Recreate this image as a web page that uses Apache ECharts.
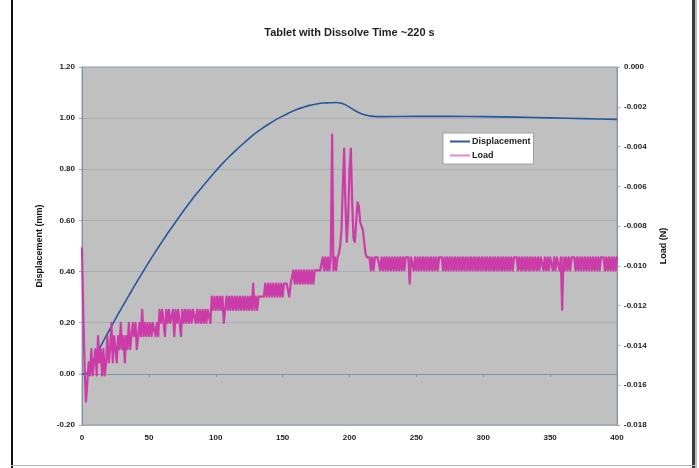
<!DOCTYPE html>
<html>
<head>
<meta charset="utf-8">
<script src="https://cdn.jsdelivr.net/npm/echarts@6/dist/echarts.min.js"></script>
<style>
html,body{margin:0;padding:0;background:#fff;}
#chart{width:699px;height:468px;}
</style>
</head>
<body>
<div id="chart"></div>
<script>
// ---- Data ----
const titleText = 'Tablet with Dissolve Time ~220 s';
const seriesNames = ['Displacement', 'Load'];
const xTicks = [0, 50, 100, 150, 200, 250, 300, 350, 400];
const leftTicks = [-0.2, 0, 0.2, 0.4, 0.6, 0.8, 1.0, 1.2];
const rightTicks = [-0.018, -0.016, -0.014, -0.012, -0.010, -0.008, -0.006, -0.004, -0.002, 0];

// Displacement (mm) vs time (s)
const dispTime = [0,3,5,10,15,20,25,30,35,40,45,50,55,60,65,70,75,80,85,90,95,100,105,110,115,120,125,130,135,140,145,150,155,160,165,170,175,180,185,190,193,196,200,204,208,212,216,225,250,275,300,325,350,375,400];
const dispValue = [0.000,0.000,0.015,0.068,0.118,0.167,0.215,0.261,0.306,0.351,0.394,0.437,0.478,0.518,0.557,0.594,0.631,0.666,0.700,0.732,0.763,0.793,0.822,0.849,0.874,0.898,0.921,0.942,0.961,0.978,0.994,1.008,1.021,1.033,1.042,1.050,1.055,1.059,1.060,1.061,1.059,1.054,1.043,1.030,1.019,1.012,1.008,1.006,1.007,1.007,1.006,1.004,1.001,0.998,0.995];

// Load (N), one sample per second starting at t = 0 s (401 samples)
const loadSampleInterval = 1;
const loadValue = [
-0.0091,-0.0125,-0.0152,-0.01683,-0.01683,-0.01485,-0.01551,-0.01419,-0.01551,-0.01485,
-0.01419,-0.01551,-0.01353,-0.01485,-0.01419,-0.01551,-0.01419,-0.01551,-0.01485,-0.01353,
-0.01485,-0.01419,-0.01287,-0.01485,-0.01353,-0.01419,-0.01485,-0.01353,-0.01419,-0.01287,
-0.01419,-0.01353,-0.01485,-0.01353,-0.01419,-0.01287,-0.01419,-0.01353,-0.01287,-0.01353,
-0.01287,-0.01419,-0.01353,-0.01287,-0.01353,-0.01221,-0.01353,-0.01287,-0.01353,-0.01287,
-0.01353,-0.01287,-0.01353,-0.01287,-0.01287,-0.01353,-0.01287,-0.01353,-0.01221,-0.01287,
-0.01221,-0.01287,-0.01353,-0.01221,-0.01287,-0.01221,-0.01287,-0.01287,-0.01221,-0.01353,
-0.01221,-0.01287,-0.01221,-0.01287,-0.01353,-0.01221,-0.01287,-0.01221,-0.01287,-0.01221,
-0.01287,-0.01221,-0.01287,-0.01221,-0.01221,-0.01287,-0.01221,-0.01287,-0.01221,-0.01287,
-0.01221,-0.01287,-0.01221,-0.01287,-0.01221,-0.01221,-0.01287,-0.01155,-0.01221,-0.01155,
-0.01221,-0.01155,-0.01221,-0.01155,-0.01221,-0.01155,-0.01287,-0.01221,-0.01155,-0.01221,
-0.01155,-0.01221,-0.01155,-0.01221,-0.01155,-0.01221,-0.01155,-0.01221,-0.01155,-0.01221,
-0.01155,-0.01221,-0.01155,-0.01221,-0.01155,-0.01221,-0.01155,-0.01221,-0.01089,-0.01221,
-0.01155,-0.01221,-0.01155,-0.01155,-0.01155,-0.01155,-0.01155,-0.01089,-0.01155,-0.01089,
-0.01155,-0.01089,-0.01155,-0.01089,-0.01155,-0.01089,-0.01155,-0.01089,-0.01155,-0.01089,
-0.01155,-0.01089,-0.01089,-0.01089,-0.01089,-0.01155,-0.01089,-0.01089,-0.01023,-0.01089,
-0.01023,-0.01089,-0.01023,-0.01089,-0.01023,-0.01089,-0.01023,-0.01089,-0.01023,-0.01089,
-0.01023,-0.01089,-0.01023,-0.01089,-0.01023,-0.01023,-0.01023,-0.01023,-0.01023,-0.01023,
-0.00957,-0.01023,-0.00957,-0.01023,-0.00957,-0.01023,-0.00957,-0.0034,-0.01023,-0.00957,
-0.01023,-0.00957,-0.0094,-0.0090,-0.0082,-0.0060,-0.0041,-0.0070,-0.0088,-0.0075,
-0.0052,-0.0041,-0.0068,-0.0086,-0.0088,-0.0078,-0.0068,-0.0070,-0.0078,-0.0080,
-0.0082,-0.0088,-0.0094,-0.00957,-0.00957,-0.00957,-0.01023,-0.00957,-0.01023,-0.00957,
-0.00957,-0.00957,-0.00957,-0.01023,-0.00957,-0.01023,-0.00957,-0.01023,-0.00957,-0.01023,
-0.00957,-0.01023,-0.00957,-0.01023,-0.00957,-0.01023,-0.00957,-0.01023,-0.00957,-0.01023,
-0.00957,-0.01023,-0.00957,-0.00957,-0.00957,-0.01089,-0.00957,-0.00957,-0.01023,-0.00957,
-0.01023,-0.00957,-0.01023,-0.00957,-0.01023,-0.00957,-0.01023,-0.00957,-0.01023,-0.00957,
-0.01023,-0.00957,-0.01023,-0.00957,-0.01023,-0.00957,-0.01023,-0.00957,-0.00957,-0.00957,
-0.01023,-0.00957,-0.01023,-0.00957,-0.01023,-0.00957,-0.01023,-0.00957,-0.01023,-0.00957,
-0.01023,-0.00957,-0.01023,-0.00957,-0.01023,-0.00957,-0.01023,-0.00957,-0.01023,-0.00957,
-0.01023,-0.00957,-0.01023,-0.00957,-0.01023,-0.00957,-0.01023,-0.00957,-0.01023,-0.00957,
-0.01023,-0.00957,-0.01023,-0.00957,-0.01023,-0.00957,-0.01023,-0.00957,-0.01023,-0.00957,
-0.01023,-0.00957,-0.01023,-0.00957,-0.01023,-0.00957,-0.01023,-0.00957,-0.01023,-0.00957,
-0.01023,-0.00957,-0.01023,-0.00957,-0.00957,-0.00957,-0.01023,-0.00957,-0.01023,-0.00957,
-0.01023,-0.00957,-0.01023,-0.00957,-0.01023,-0.00957,-0.01023,-0.00957,-0.01023,-0.00957,
-0.01023,-0.00957,-0.01023,-0.00957,-0.00957,-0.01023,-0.00957,-0.01023,-0.00957,-0.01023,
-0.00957,-0.00957,-0.01023,-0.00957,-0.01023,-0.00957,-0.00957,-0.01023,-0.00957,-0.01221,
-0.00957,-0.01023,-0.00957,-0.01023,-0.00957,-0.01023,-0.00957,-0.00957,-0.00957,-0.01023,
-0.00957,-0.01023,-0.00957,-0.01023,-0.00957,-0.01023,-0.00957,-0.01023,-0.00957,-0.01023,
-0.00957,-0.01023,-0.00957,-0.01023,-0.00957,-0.01023,-0.00957,-0.01023,-0.00957,-0.00957,
-0.00957,-0.01023,-0.00957,-0.01023,-0.00957,-0.01023,-0.00957,-0.01023,-0.00957,-0.01023,
-0.00957
];

// ---- Chart ----
const FONT = '"Liberation Sans", Arial, sans-serif';
const dispData = dispTime.map((t, i) => [t, dispValue[i]]);
const loadData = loadValue.map((v, i) => [i * loadSampleInterval, v]);

const chart = echarts.init(document.getElementById('chart'), null, {renderer: 'canvas'});
const axisLabelStyle = {fontFamily: FONT, fontSize: 8, fontWeight: 'bold', color: '#222'};
const axisNameStyle = {fontFamily: FONT, fontSize: 9, fontWeight: 'bold', color: '#111'};

chart.setOption({
  backgroundColor: '#ffffff',
  animation: false,
  title: {
    text: titleText,
    left: 'center',
    top: 22,
    textStyle: {fontFamily: FONT, fontSize: 11, fontWeight: 'bold', color: '#222'}
  },
  legend: {
    data: [
      {name: seriesNames[0], icon: 'rect', itemStyle: {color: '#2a58a0'}},
      {name: seriesNames[1], icon: 'rect', itemStyle: {color: '#e08ccc'}}
    ],
    orient: 'vertical',
    left: 443,
    top: 133,
    itemWidth: 20,
    itemHeight: 2,
    itemGap: 3,
    padding: [3, 3, 3, 7],
    backgroundColor: '#ffffff',
    borderColor: '#a0a0a0',
    borderWidth: 1,
    textStyle: {fontFamily: FONT, fontSize: 9, fontWeight: 'bold', color: '#222', lineHeight: 11, padding: [0,0,0,-3]}
  },
  grid: {
    left: 82, right: 82, top: 67, bottom: 43,
    containLabel: false,
    outerBoundsMode: 'none',
    show: true,
    backgroundColor: '#c0c0c0',
    borderColor: '#8a9fb0',
    borderWidth: 1
  },
  xAxis: {
    type: 'value',
    min: xTicks[0],
    max: xTicks[xTicks.length - 1],
    interval: xTicks[1] - xTicks[0],
    name: 'Time (s)',
    nameLocation: 'middle',
    nameGap: 62,
    nameTextStyle: axisNameStyle,
    axisLine: {show: true, onZero: true, onZeroAxisIndex: 0, lineStyle: {color: '#7f93a6', width: 1}},
    axisTick: {show: true, length: 3, lineStyle: {color: '#7f93a6'}},
    axisLabel: Object.assign({margin: 9}, axisLabelStyle),
    splitLine: {show: false}
  },
  yAxis: [
    {
      type: 'value',
      min: leftTicks[0],
      max: leftTicks[leftTicks.length - 1],
      interval: 0.2,
      name: 'Displacement (mm)',
      nameLocation: 'middle',
      nameRotate: 90,
      nameGap: 38,
      nameTextStyle: axisNameStyle,
      axisLine: {show: true, lineStyle: {color: '#7f93a6'}},
      axisTick: {show: true, length: 3, lineStyle: {color: '#9aa'}},
      axisLabel: Object.assign({margin: 7, formatter: v => (Math.abs(v) < 1e-9 ? 0 : v).toFixed(2)}, axisLabelStyle),
      splitLine: {show: true, lineStyle: {color: '#a9adb3', width: 1}}
    },
    {
      type: 'value',
      position: 'right',
      min: rightTicks[0],
      max: rightTicks[rightTicks.length - 1],
      interval: 0.002,
      name: 'Load (N)',
      nameLocation: 'middle',
      nameRotate: 90,
      nameGap: 42,
      nameTextStyle: axisNameStyle,
      axisLine: {show: true, lineStyle: {color: '#7f93a6'}},
      axisTick: {show: true, length: 3, lineStyle: {color: '#9aa'}},
      axisLabel: Object.assign({margin: 7, formatter: v => (Math.abs(v) < 1e-9 ? 0 : v).toFixed(3)}, axisLabelStyle),
      splitLine: {show: false}
    }
  ],
  series: [
    {
      name: seriesNames[0],
      type: 'line',
      yAxisIndex: 0,
      data: dispData,
      smooth: 0.3,
      showSymbol: false,
      lineStyle: {color: '#24579c', width: 1.6},
      itemStyle: {color: '#24579c'},
      z: 2
    },
    {
      name: seriesNames[1],
      type: 'line',
      yAxisIndex: 1,
      data: loadData,
      showSymbol: false,
      lineStyle: {color: '#cc3ca8', width: 2.2, join: 'round', cap: 'round'},
      itemStyle: {color: '#cc3ca8'},
      z: 3
    }
  ],
  graphic: [
    {type: 'rect', shape: {x: 11, y: 0, width: 2, height: 468}, style: {fill: '#111'}, silent: true},
    {type: 'rect', shape: {x: 692, y: 0, width: 3, height: 468}, style: {fill: '#3a3a3a'}, silent: true},
    {type: 'rect', shape: {x: 695, y: 0, width: 2, height: 468}, style: {fill: '#bdbdbd'}, silent: true},
    {type: 'rect', shape: {x: 11, y: 465, width: 684, height: 1}, style: {fill: '#b5b5b5'}, silent: true}
  ]
});
</script>
</body>
</html>
